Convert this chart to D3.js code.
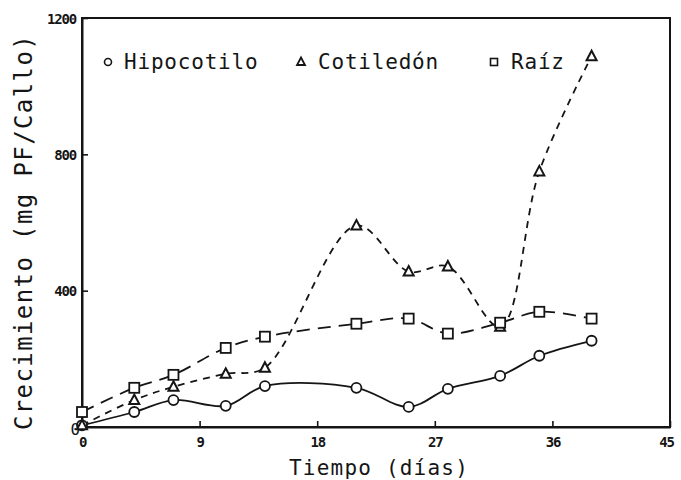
<!DOCTYPE html>
<html>
<head>
<meta charset="utf-8">
<script src="https://cdn.jsdelivr.net/npm/d3@7/dist/d3.min.js"></script>
<style>
  html, body { margin: 0; padding: 0; background: #fff; }
  svg { display: block; }
  text { fill: #151515; }
</style>
</head>
<body>
<svg id="chart" width="681" height="480"></svg>
<script>
// Growth of callus (mg fresh weight per callus) over time, by explant type
const days        = [0, 4, 7, 11, 14, 21, 25, 28, 32, 35, 39];
const hipocotilo  = [5, 44, 79, 62, 120, 115, 59, 112, 150, 209, 253];
const cotiledon   = [5, 79, 118, 156, 174, 591, 456, 471, 294, 750, 1088];
const raiz        = [44, 115, 153, 232, 265, 303, 318, 274, 306, 338, 318];

const seriesNames = ["Hipocotilo", "Cotiledón", "Raíz"];
const xTicks = [0, 9, 18, 27, 36, 45];
const yTicks = [0, 400, 800, 1200];
const xTitle = "Tiempo (días)";
const yTitle = "Crecimiento (mg PF/Callo)";

const W = 681, H = 480;
const margin = { top: 18, right: 11, bottom: 53, left: 82 };
const svg = d3.select("#chart");

const x = d3.scaleLinear().domain([0, 45]).range([margin.left, W - margin.right]);
const y = d3.scaleLinear().domain([0, 1200]).range([H - margin.bottom, margin.top]);

const ink = "#151515";
const mono = "'DejaVu Sans Mono', monospace";

// Frame
svg.append("rect")
  .attr("x", margin.left).attr("y", margin.top)
  .attr("width", W - margin.left - margin.right)
  .attr("height", H - margin.top - margin.bottom)
  .attr("fill", "none").attr("stroke", ink).attr("stroke-width", 2);

// Axes with inward ticks
const xAxis = d3.axisBottom(x).tickValues(xTicks).tickFormat(d3.format("d"))
  .tickSizeInner(-6).tickSizeOuter(0).tickPadding(12);
const yAxis = d3.axisLeft(y).tickValues(yTicks).tickFormat(d3.format("d"))
  .tickSizeInner(-6).tickSizeOuter(0).tickPadding(6);

const gx = svg.append("g").attr("transform", `translate(0,${H - margin.bottom})`).call(xAxis);
const gy = svg.append("g").attr("transform", `translate(${margin.left},0)`).call(yAxis);
[gx, gy].forEach(g => {
  g.select(".domain").attr("stroke", ink).attr("stroke-width", 2);
  g.selectAll(".tick line").attr("stroke", ink).attr("stroke-width", 1.6);
  g.selectAll(".tick text")
    .attr("fill", ink)
    .style("font-family", mono)
    .style("font-weight", "bold")
    .style("font-size", "14px")
    .style("letter-spacing", "-1.2px");
});
gy.selectAll(".tick text").attr("dy", "0.36em");
gx.selectAll(".tick text").attr("dy", "0.6em");
// Zero label sits just beside the origin
gy.selectAll(".tick").filter(d => d === 0).select("text")
  .attr("x", -3).attr("dy", "0.45em").style("font-size", "16px").style("font-weight", "normal");
gx.selectAll(".tick").filter(d => d === 45).select("text").attr("x", -4);

// Axis titles
svg.append("text")
  .attr("x", 379).attr("y", 475)
  .attr("text-anchor", "middle")
  .style("font-family", mono).style("font-size", "21px").style("letter-spacing", "1.2px")
  .text(xTitle);

svg.append("text")
  .attr("transform", "translate(32,232) rotate(-90)")
  .attr("text-anchor", "middle")
  .style("font-family", mono).style("font-size", "24px").style("letter-spacing", "1.4px")
  .text(yTitle);

// Lines
const line = d3.line()
  .x((d, i) => x(days[i]))
  .y(d => y(d))
  .curve(d3.curveCatmullRom.alpha(0.5));

const series = [
  { name: seriesNames[0], values: hipocotilo, dash: null,   shape: "circle" },
  { name: seriesNames[1], values: cotiledon,  dash: "7,6",  shape: "triangle" },
  { name: seriesNames[2], values: raiz,       dash: "13,8", shape: "square" }
];

series.forEach(s => {
  svg.append("path")
    .datum(s.values)
    .attr("d", line)
    .attr("fill", "none")
    .attr("stroke", ink)
    .attr("stroke-width", 1.8)
    .attr("stroke-dasharray", s.dash);
});

// Markers
function drawMarker(g, shape, cx, cy) {
  if (shape === "circle") {
    g.append("circle").attr("cx", cx).attr("cy", cy).attr("r", 5)
      .attr("fill", "#fff").attr("stroke", ink).attr("stroke-width", 1.8);
  } else if (shape === "triangle") {
    g.append("path")
      .attr("d", `M${cx},${cy - 5.5}L${cx + 5},${cy + 4}L${cx - 5},${cy + 4}Z`)
      .attr("fill", "#fff").attr("stroke", ink).attr("stroke-width", 2);
  } else {
    g.append("rect").attr("x", cx - 5).attr("y", cy - 5).attr("width", 10).attr("height", 10)
      .attr("fill", "#fff").attr("stroke", ink).attr("stroke-width", 1.8);
  }
}

const gm = svg.append("g");
series.forEach(s => {
  s.values.forEach((v, i) => drawMarker(gm, s.shape, x(days[i]), y(v)));
});

// Legend
const legendPos = [
  { mx: 108, tx: 124 },
  { mx: 301, tx: 318 },
  { mx: 494, tx: 511 }
];
const gl = svg.append("g");
series.forEach((s, i) => {
  const p = legendPos[i];
  const lg = gl.append("g");
  if (s.shape === "circle") {
    lg.append("circle").attr("cx", p.mx).attr("cy", 62).attr("r", 3.5)
      .attr("fill", "#fff").attr("stroke", ink).attr("stroke-width", 1.6);
  } else if (s.shape === "triangle") {
    lg.append("path").attr("d", `M${p.mx},${57.5}L${p.mx + 4},${65}L${p.mx - 4},${65}Z`)
      .attr("fill", "#fff").attr("stroke", ink).attr("stroke-width", 1.8);
  } else {
    lg.append("rect").attr("x", p.mx - 3.5).attr("y", 58.5).attr("width", 7).attr("height", 7)
      .attr("fill", "#fff").attr("stroke", ink).attr("stroke-width", 1.6);
  }
  lg.append("text")
    .attr("x", p.tx).attr("y", 69)
    .style("font-family", mono).style("font-size", "21px").style("letter-spacing", "0.8px")
    .text(s.name);
});
</script>
</body>
</html>
